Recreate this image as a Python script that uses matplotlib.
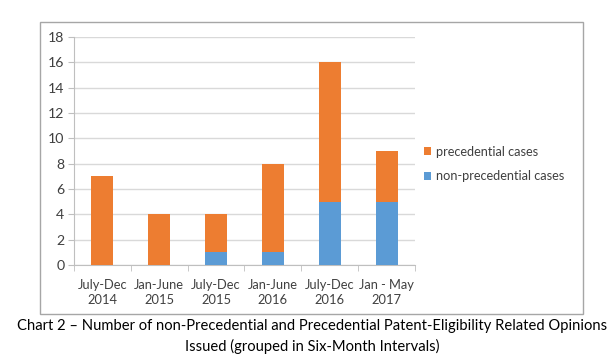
import matplotlib.pyplot as plt
from matplotlib.patches import Rectangle

plt.rcParams['font.family'] = ['Lato', 'DejaVu Sans']

periods = ["July-Dec\n2014", "Jan-June\n2015", "July-Dec\n2015",
           "Jan-June\n2016", "July-Dec\n2016", "Jan - May\n2017"]
non_precedential = [0, 0, 1, 1, 5, 5]
precedential = [7, 4, 3, 7, 11, 4]

blue = "#5B9BD5"
orange = "#ED7D31"

fig = plt.figure(figsize=(6.15, 3.62), dpi=100)
ax = fig.add_axes([74 / 615, 1 - 265 / 362, 341 / 615, 228 / 362])

x = range(len(periods))
b1 = ax.bar(x, non_precedential, width=0.39, color=blue, label="non-precedential cases", zorder=3)
b2 = ax.bar(x, precedential, width=0.39, bottom=non_precedential, color=orange,
            label="precedential cases", zorder=3)

ax.set_ylim(0, 18)
ax.set_yticks(range(0, 19, 2))
ax.set_xlim(-0.5, len(periods) - 0.5)
ax.set_xticks(x)
ax.set_xticklabels(periods, linespacing=1.3)
ax.set_xticks([i - 0.5 for i in range(len(periods) + 1)], minor=True)
ax.tick_params(axis="x", which="major", length=0, pad=10, labelsize=9.3, labelcolor="#404040")
ax.tick_params(axis="x", which="minor", length=4, color="#BFBFBF")
ax.tick_params(axis="y", length=4, color="#BFBFBF", labelsize=10.2, labelcolor="#404040", pad=3)
ax.yaxis.grid(True, color="#D9D9D9", linewidth=1, zorder=0)
for s in ["top", "right"]:
    ax.spines[s].set_visible(False)
ax.spines["left"].set_color("#BFBFBF")
ax.spines["bottom"].set_color("#BFBFBF")

fig.legend([b2, b1], ["precedential cases", "non-precedential cases"],
           loc="center left", bbox_to_anchor=(412 / 615, 1 - 164 / 362),
           frameon=False, fontsize=9.2, handlelength=0.6, handleheight=0.6,
           handletextpad=0.4, labelspacing=0.95, labelcolor="#404040")

fig.patches.append(Rectangle((40 / 615, 1 - 314 / 362), 543 / 615, 292 / 362,
                             transform=fig.transFigure, fill=False,
                             edgecolor="#A6A6A6", linewidth=1))

fig.text(312 / 615, 1 - 326 / 362,
         "Chart 2 \u2013 Number of non-Precedential and Precedential Patent-Eligibility Related Opinions",
         ha="center", va="center", fontsize=10.6, color="#000000")
fig.text(312 / 615, 1 - 346 / 362, "Issued (grouped in Six-Month Intervals)",
         ha="center", va="center", fontsize=10.6, color="#000000")

fig.savefig("out.png", dpi=100)
